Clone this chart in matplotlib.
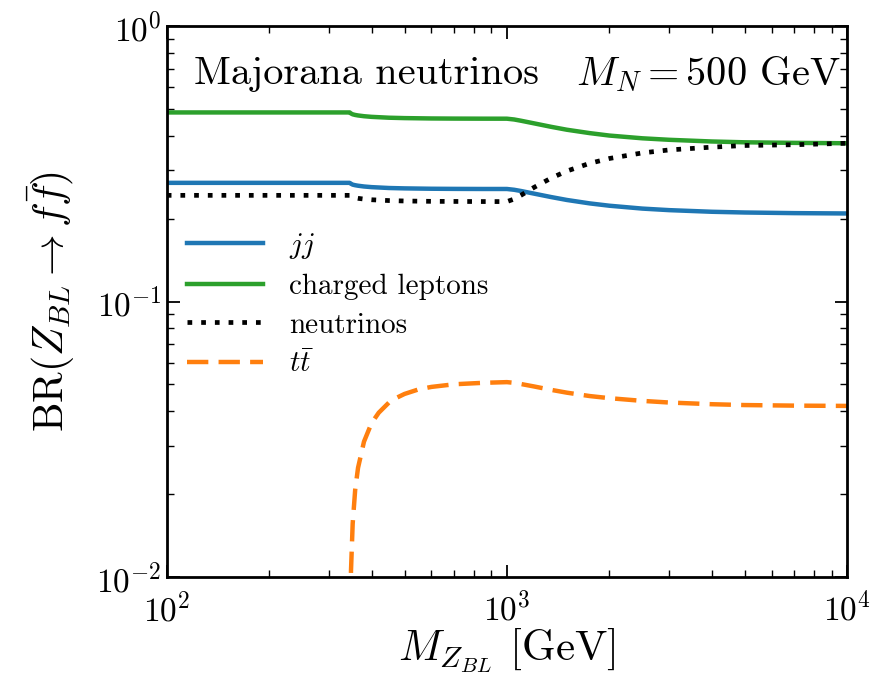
import numpy as np
import matplotlib
matplotlib.use("Agg")
import matplotlib.pyplot as plt

plt.rcParams['font.family'] = 'cmr10'
plt.rcParams['mathtext.fontset'] = 'cm'
plt.rcParams['axes.formatter.use_mathtext'] = True
plt.rcParams['axes.unicode_minus'] = False

# Z_BL mass grid [GeV]
mass = [100, 200, 300, 345, 348, 352, 358, 365, 380, 400, 450, 500, 600, 700,
        850, 1000, 1050, 1100, 1200, 1350, 1500, 1750, 2000, 2500, 3000, 4000,
        5000, 7000, 10000]

# branching ratios
br_jj = [0.270, 0.270, 0.270, 0.270, 0.268, 0.266, 0.2647, 0.2636, 0.2619,
         0.2605, 0.2586, 0.2578, 0.257, 0.2567, 0.2565, 0.2565, 0.2548, 0.2522,
         0.2468, 0.2397, 0.234, 0.2274, 0.223, 0.2177, 0.2149, 0.212, 0.2107,
         0.2096, 0.209]
br_lep = [0.4865, 0.4865, 0.4865, 0.4865, 0.4823, 0.4789, 0.4764, 0.4744,
          0.4714, 0.4689, 0.4655, 0.464, 0.4626, 0.4621, 0.4618, 0.4617, 0.4587,
          0.4539, 0.4442, 0.4313, 0.421, 0.4093, 0.401, 0.3919, 0.387, 0.3816,
          0.379, 0.3772, 0.376]
br_nu = [0.2432, 0.2432, 0.2432, 0.2432, 0.2412, 0.2394, 0.2382, 0.2372,
         0.2357, 0.2344, 0.2328, 0.232, 0.2313, 0.2311, 0.2309, 0.2308, 0.2358,
         0.2434, 0.2597, 0.2811, 0.298, 0.3178, 0.331, 0.3468, 0.3556, 0.3639,
         0.369, 0.3714, 0.376]

# top pairs open at 2 m_t
mass_tt = [346, 348, 352, 358, 365, 380, 400, 420, 450, 475, 500, 550, 600,
           700, 850, 1000, 1050, 1100, 1200, 1350, 1500, 1750, 2000, 2500,
           3000, 4000, 5000, 7000, 10000]
br_tt = [0.0061, 0.0105, 0.0156, 0.0207, 0.0249, 0.031, 0.0362, 0.0395, 0.043,
         0.0448, 0.0462, 0.048, 0.049, 0.0501, 0.0507, 0.051, 0.0507, 0.0502,
         0.0492, 0.0478, 0.0467, 0.0454, 0.0446, 0.0436, 0.043, 0.0424, 0.0421,
         0.0419, 0.0418]

fig = plt.figure(figsize=(8.87, 6.74), dpi=100)
ax = fig.add_axes([0.188, 0.144, 0.767, 0.817])

ax.plot(mass, br_jj, color='#1f77b4', lw=3.2, label=r'$jj$')
ax.plot(mass, br_lep, color='#2ca02c', lw=3.2, label='charged leptons')
ax.plot(mass, br_nu, color='black', lw=3.4, ls=(0, (1, 1.9)), label='neutrinos')
ax.plot(mass_tt, br_tt, color='#ff7f0e', lw=3.2, ls=(0, (4.8, 2.3)), label=r'$t\bar{t}$')

ax.set_xscale('log')
ax.set_yscale('log')
ax.set_xlim(1e2, 1e4)
ax.set_ylim(1e-2, 1)

ax.tick_params(which='both', direction='in', top=True, right=True, labelsize=24)
ax.tick_params(which='major', length=9, width=1.3)
ax.tick_params(which='minor', length=5, width=1)
ax.tick_params(axis='x', pad=10)
for s in ax.spines.values():
    s.set_linewidth(2)

ax.set_xlabel(r'$M_{Z_{BL}}$ [GeV]', fontsize=31, labelpad=0)
ax.set_ylabel(r'BR$(Z_{BL} \rightarrow f\bar{f})$', fontsize=30, labelpad=14)

ax.text(0.04, 0.913, 'Majorana neutrinos', transform=ax.transAxes,
        fontsize=29, va='center', ha='left')
ax.text(0.99, 0.913, r'$M_N = 500$ GeV', transform=ax.transAxes,
        fontsize=29, va='center', ha='right')

ax.legend(loc='upper left', bbox_to_anchor=(0.0, 0.665), frameon=False,
          fontsize=21, handlelength=2.6, handletextpad=0.9,
          labelspacing=0.42, borderaxespad=0.3)

fig.savefig('out.png', dpi=100)
